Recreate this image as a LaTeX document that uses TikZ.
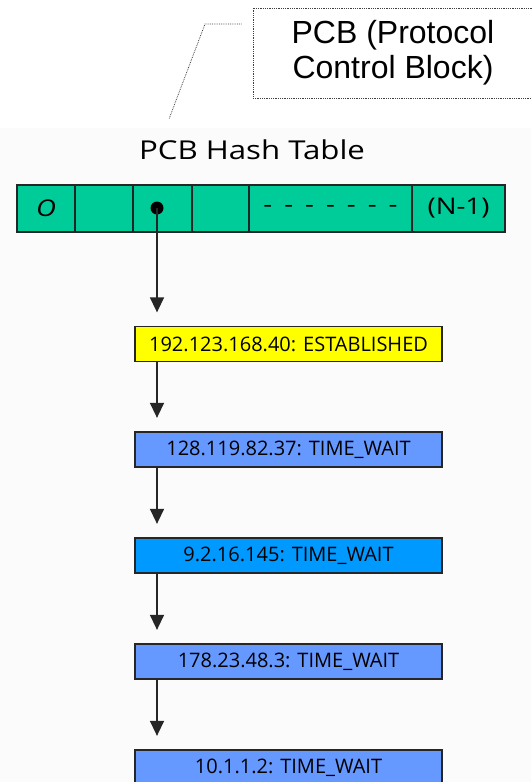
\documentclass[tikz,border=0pt]{standalone}
\usepackage{fontspec}
\setmainfont{Open Sans}
\newfontfamily\calloutfont{Liberation Sans}
\newfontfamily\widefont[FakeStretch=1.2]{Open Sans}
\usetikzlibrary{arrows.meta}

\definecolor{tablegreen}{HTML}{00CC99}
\definecolor{estyellow}{HTML}{FFFF00}
\definecolor{waitblue}{HTML}{6699FF}
\definecolor{brightblue}{HTML}{0099FF}

\begin{document}
\begin{tikzpicture}[x=1pt, y=-1pt,
  cell/.style={draw=black!85, line width=1.3pt, fill=tablegreen, minimum height=47pt,
               inner sep=0pt, outer sep=0pt, anchor=west, font=\widefont\fontsize{23}{26}\selectfont},
  entry/.style={draw=black!85, line width=1.3pt, minimum width=307pt, minimum height=35pt,
                inner sep=0pt, font=\fontsize{20}{22}\selectfont},
  arr/.style={-{Triangle[length=15pt, width=14pt]}, line width=1.5pt, black!85, shorten >=13.5pt},
  note/.style={draw=black!75, densely dotted, line width=0.8pt, minimum width=280pt,
               minimum height=90pt, align=center, font=\calloutfont\fontsize{32}{35}\selectfont},
  lead/.style={densely dotted, line width=0.8pt, black!75}
]
  \useasboundingbox (0,0) rectangle (531,782);
  \fill[black!1.5] (0,128) rectangle (531,782);

  % callout
  \node[note] (pcb) at (393,53) {PCB (Protocol\\Control Block)};
  \coordinate (bend) at (205,24);
  \coordinate (tail) at (169,119);
  \draw[lead, shorten <=11pt] (pcb.west |- bend) -- (bend) -- (tail);

  \node[font=\widefont\fontsize{26}{30}\selectfont, anchor=base] (title) at (252,159) {PCB Hash Table};

  % hash table
  \node[cell, minimum width=58pt] (c0) at (17,208.5) {\itshape O};
  \node[cell, minimum width=58pt] (c1) at (c0.east) {};
  \node[cell, minimum width=59pt] (c2) at (c1.east) {};
  \node[cell, minimum width=57pt] (c3) at (c2.east) {};
  \node[cell, minimum width=163pt] (c4) at (c3.east) {{\spaceskip=12pt - - - - - - -}};
  \node[cell, minimum width=93pt] (c5) at (c4.east) {(N-1)};
  \node[circle, fill=black, inner sep=0pt, minimum size=13pt] (dot) at (157,208) {};

  % chain of PCBs
  \node[entry, fill=estyellow] (e1) at (288.5,344) {192.123.168.40: ESTABLISHED};
  \node[entry, fill=waitblue] (e2) at (288.5,449.5) {128.119.82.37: TIME\_WAIT};
  \node[entry, fill=brightblue] (e3) at (288.5,555.5) {9.2.16.145: TIME\_WAIT};
  \node[entry, fill=waitblue] (e4) at (288.5,661.5) {178.23.48.3: TIME\_WAIT};
  \node[entry, fill=waitblue] (e5) at (288.5,767.5) {10.1.1.2: TIME\_WAIT};

  \draw[arr] (dot.center) -- (e1.north -| dot);
  \foreach \a/\b in {e1/e2, e2/e3, e3/e4, e4/e5}
    \draw[arr] (\a.south -| dot) -- (\b.north -| dot);
\end{tikzpicture}
\end{document}
